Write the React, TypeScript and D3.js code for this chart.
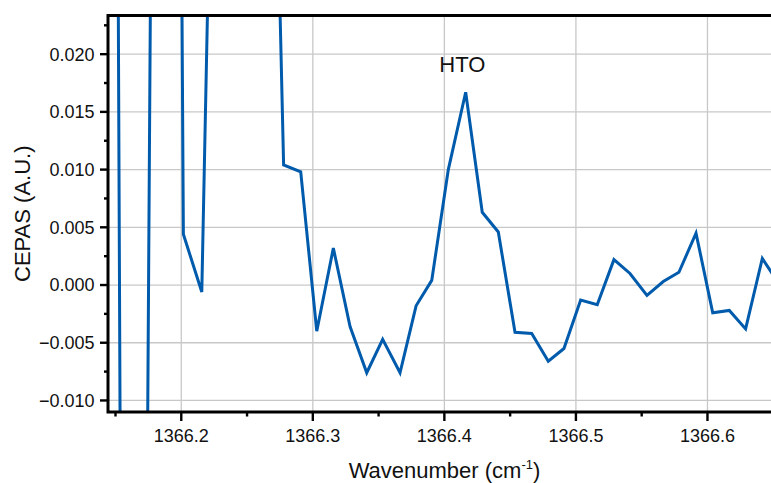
import React, { useEffect, useRef } from "react";
import * as d3 from "d3";

// wavenumber (cm-1)
const wavenumbers = [
  1366.1504, 1366.1618, 1366.1888, 1366.2016, 1366.2156, 1366.2282, 1366.2408,
  1366.2534, 1366.266, 1366.2778, 1366.2908, 1366.303, 1366.3156, 1366.3283,
  1366.341, 1366.3531, 1366.3663, 1366.3785, 1366.3904, 1366.403, 1366.4162,
  1366.4288, 1366.441, 1366.4537, 1366.4664, 1366.479, 1366.4909, 1366.5036,
  1366.5162, 1366.5289, 1366.5411, 1366.554, 1366.5664, 1366.5783, 1366.5913,
  1366.604, 1366.6166, 1366.629, 1366.6417, 1366.6543,
];

// CEPAS signal (A.U.)
const cepas = [
  0.07, -0.233, 0.239, 0.0044, -0.0006, 0.07, 0.085, 0.08, 0.068, 0.0104,
  0.0098, -0.004, 0.0032, -0.0036, -0.0076, -0.0047, -0.0076, -0.0018, 0.0004,
  0.01, 0.0167, 0.0063, 0.0046, -0.0041, -0.0042, -0.0066, -0.0055, -0.0013,
  -0.0017, 0.0022, 0.001, -0.0009, 0.0003, 0.0011, 0.0045, -0.0024, -0.0022,
  -0.0038, 0.0023, 0.0001,
];

const xTicks = [1366.2, 1366.3, 1366.4, 1366.5, 1366.6];
const xMinorTicks = [1366.15, 1366.25, 1366.35, 1366.45, 1366.55, 1366.65];
const yTicks = [-0.01, -0.005, 0, 0.005, 0.01, 0.015, 0.02];
const yMinorTicks = [-0.0075, -0.0025, 0.0025, 0.0075, 0.0125, 0.0175, 0.0225];

const peakLabel = { text: "HTO", x: 1366.4137, y: 0.01842 };

const W = 771;
const H = 483;
const FONT = "'Liberation Sans', Arial, sans-serif";

export default function App() {
  const ref = useRef<SVGSVGElement>(null);

  useEffect(() => {
    const svg = d3.select(ref.current);
    svg.selectAll("*").remove();

    const left = 108;
    const right = 781;
    const top = 15.5;
    const bottom = 412;

    const x = d3.scaleLinear().domain([1366.1443, 1366.6559]).range([left, right]);
    const y = d3.scaleLinear().domain([-0.011, 0.02335]).range([bottom, top]);

    svg
      .append("defs")
      .append("clipPath")
      .attr("id", "plot-clip")
      .append("rect")
      .attr("x", left)
      .attr("y", top)
      .attr("width", right - left)
      .attr("height", bottom - top);

    // grid
    const grid = svg.append("g").attr("stroke", "#c8c8c8").attr("stroke-width", 1.3);
    grid
      .selectAll("line.gx")
      .data(xTicks)
      .enter()
      .append("line")
      .attr("x1", d => x(d))
      .attr("x2", d => x(d))
      .attr("y1", top)
      .attr("y2", bottom);
    grid
      .selectAll("line.gy")
      .data(yTicks)
      .enter()
      .append("line")
      .attr("x1", left)
      .attr("x2", right)
      .attr("y1", d => y(d))
      .attr("y2", d => y(d));

    // data line
    const pts: [number, number][] = wavenumbers.map((w, i) => [w, cepas[i]]);
    const line = d3
      .line<[number, number]>()
      .x(d => x(d[0]))
      .y(d => y(d[1]));

    svg
      .append("path")
      .datum(pts)
      .attr("clip-path", "url(#plot-clip)")
      .attr("fill", "none")
      .attr("stroke", "#005bac")
      .attr("stroke-width", 3)
      .attr("stroke-linejoin", "miter")
      .attr("d", line);

    // frame
    const axisColor = "#000";
    svg
      .append("path")
      .attr("d", `M${left},${bottom}V${top}H${right}V${bottom}Z`)
      .attr("fill", "none")
      .attr("stroke", axisColor)
      .attr("stroke-width", 3);

    // ticks
    const ticks = svg.append("g").attr("stroke", axisColor).attr("stroke-width", 2.4);
    ticks
      .selectAll("line.xt")
      .data(xTicks)
      .enter()
      .append("line")
      .attr("x1", d => x(d))
      .attr("x2", d => x(d))
      .attr("y1", bottom)
      .attr("y2", bottom + 9);
    ticks
      .selectAll("line.xm")
      .data(xMinorTicks)
      .enter()
      .append("line")
      .attr("x1", d => x(d))
      .attr("x2", d => x(d))
      .attr("y1", bottom)
      .attr("y2", bottom + 4.5);
    ticks
      .selectAll("line.yt")
      .data(yTicks)
      .enter()
      .append("line")
      .attr("x1", left - 8)
      .attr("x2", left)
      .attr("y1", d => y(d))
      .attr("y2", d => y(d));
    ticks
      .selectAll("line.ym")
      .data(yMinorTicks)
      .enter()
      .append("line")
      .attr("x1", left - 4)
      .attr("x2", left)
      .attr("y1", d => y(d))
      .attr("y2", d => y(d));

    // tick labels
    const fx = d3.format(".1f");
    const fy = d3.format(".3f");

    svg
      .selectAll("text.xl")
      .data(xTicks)
      .enter()
      .append("text")
      .attr("x", d => x(d))
      .attr("y", 442)
      .attr("text-anchor", "middle")
      .attr("font-family", FONT)
      .attr("font-size", 18)
      .attr("fill", "#111")
      .text(d => fx(d));

    svg
      .selectAll("text.yl")
      .data(yTicks)
      .enter()
      .append("text")
      .attr("x", 94.5)
      .attr("y", d => y(d) + 6.4)
      .attr("text-anchor", "end")
      .attr("font-family", FONT)
      .attr("font-size", 18)
      .attr("fill", "#111")
      .text(d => fy(d));

    // axis titles
    const xt = svg
      .append("text")
      .attr("x", 444.5)
      .attr("y", 478.3)
      .attr("text-anchor", "middle")
      .attr("font-family", FONT)
      .attr("font-size", 22)
      .attr("fill", "#111");
    xt.append("tspan").text("Wavenumber (cm");
    xt.append("tspan").attr("font-size", 13).attr("dy", -9).text("-1");
    xt.append("tspan").attr("dy", 9).text(")");

    svg
      .append("text")
      .attr("transform", `translate(30,${(top + bottom) / 2}) rotate(-90)`)
      .attr("text-anchor", "middle")
      .attr("font-family", FONT)
      .attr("font-size", 22)
      .attr("fill", "#111")
      .text("CEPAS (A.U.)");

    // annotation
    svg
      .append("text")
      .attr("x", x(peakLabel.x))
      .attr("y", y(peakLabel.y))
      .attr("text-anchor", "middle")
      .attr("font-family", FONT)
      .attr("font-size", 22)
      .attr("fill", "#111")
      .text(peakLabel.text);
  }, []);

  return (
    <svg
      ref={ref}
      width={W}
      height={H}
      style={{ position: "absolute", left: 0, top: 0, background: "#fff", overflow: "hidden" }}
    />
  );
}
